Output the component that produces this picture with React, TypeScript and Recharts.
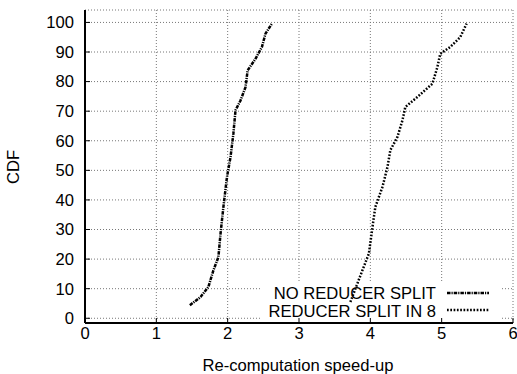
import React from 'react';
import { LineChart, Line, XAxis, YAxis, CartesianGrid } from 'recharts';

const FONT = '"Liberation Sans", Arial, Helvetica, sans-serif';

const xTicks = [0, 1, 2, 3, 4, 5, 6];
const yTicks = [0, 10, 20, 30, 40, 50, 60, 70, 80, 90, 100];

const seriesNames = ['NO REDUCER SPLIT', 'REDUCER SPLIT IN 8'];

const noSplitX = [1.47, 1.62, 1.73, 1.80, 1.87, 1.90, 1.94, 1.99, 2.04, 2.08, 2.11, 2.18, 2.25, 2.28, 2.39, 2.48, 2.53, 2.62];
const noSplitY = [4.4, 7.2, 10.6, 16.2, 20.7, 28.6, 37.6, 47.7, 54.5, 62.4, 70.3, 73.6, 78.1, 83.8, 87.7, 91.7, 96.2, 99.6];

const split8X = [3.72, 3.76, 3.81, 3.87, 3.98, 4.03, 4.07, 4.17, 4.24, 4.28, 4.38, 4.45, 4.49, 4.66, 4.87, 4.94, 4.98, 5.12, 5.26, 5.35];
const split8Y = [5.5, 8.0, 11.2, 15.0, 21.9, 30.8, 37.6, 44.4, 51.1, 56.8, 61.3, 66.9, 71.4, 74.8, 79.3, 84.9, 89.4, 91.7, 95.0, 99.6];

const noSplit = noSplitX.map((x, i) => ({ x, y: noSplitY[i] }));
const split8 = split8X.map((x, i) => ({ x, y: split8Y[i] }));

const DASHDOT = '3.5 1 1.2 1';
const DOTTED = '1.7 1.6';
const FS = 16.6;

const axisLine = { stroke: '#000', strokeWidth: 2 };
const tickLine = { stroke: '#000', strokeWidth: 1 };
const tickStyle = { fill: '#000', fontSize: FS, fontFamily: FONT };

function KeyBox() {
  return (
    <g>
      <rect x={262} y={281} width={238} height={40} fill="#fff" />
      <text x={436} y={298.5} textAnchor="end" fontSize={FS} fontFamily={FONT} fill="#000">{seriesNames[0]}</text>
      <text x={436} y={317} textAnchor="end" fontSize={FS} fontFamily={FONT} fill="#000">{seriesNames[1]}</text>
      <line x1={447} x2={489} y1={293} y2={293} stroke="#000" strokeWidth={2.5} strokeDasharray={DASHDOT} />
      <line x1={447} x2={489} y1={310} y2={310} stroke="#000" strokeWidth={2.5} strokeDasharray={DOTTED} />
      <text x={298} y={371} textAnchor="middle" fontSize={FS} fontFamily={FONT} fill="#000">Re-computation speed-up</text>
      <text x={19} y={167} textAnchor="middle" fontSize={FS} fontFamily={FONT} fill="#000" transform="rotate(-90, 19, 167)">CDF</text>
    </g>
  );
}

export default function App() {
  return (
    <div style={{ position: 'absolute', left: 0, top: 0 }}>
      <LineChart width={517} height={374} margin={{ top: 10, right: 4, bottom: 11, left: 25 }}>
        <CartesianGrid xAxisId="b" yAxisId="l" stroke="#777" strokeDasharray="1 2" strokeWidth={1} />
        <KeyBox />
        <XAxis xAxisId="b" type="number" dataKey="x" domain={[0, 6]} ticks={xTicks} interval={0} allowDataOverflow
          orientation="bottom" height={40} tickSize={-5} tickMargin={9}
          axisLine={axisLine} tickLine={tickLine} tick={tickStyle} />
        <XAxis xAxisId="t" type="number" dataKey="x" domain={[0, 6]} ticks={xTicks} interval={0} allowDataOverflow
          orientation="top" height={0} tickSize={-5} tickMargin={0}
          axisLine={axisLine} tickLine={tickLine} tickFormatter={() => ''} />
        <YAxis yAxisId="l" type="number" dataKey="y" domain={[-1.6, 104.2]} ticks={yTicks} interval={0} allowDataOverflow
          orientation="left" width={60} tickSize={-5} tickMargin={16}
          axisLine={axisLine} tickLine={tickLine} tick={tickStyle} />
        <YAxis yAxisId="r" type="number" dataKey="y" domain={[-1.6, 104.2]} ticks={yTicks} interval={0} allowDataOverflow
          orientation="right" width={0} tickSize={-5} tickMargin={0}
          axisLine={axisLine} tickLine={tickLine} tickFormatter={() => ''} />
        <Line xAxisId="b" yAxisId="l" data={noSplit} dataKey="y" type="linear" stroke="#000" strokeWidth={2.5}
          strokeDasharray={DASHDOT} dot={false} isAnimationActive={false} />
        <Line xAxisId="b" yAxisId="l" data={split8} dataKey="y" type="linear" stroke="#000" strokeWidth={2.5}
          strokeDasharray={DOTTED} dot={false} isAnimationActive={false} />
      </LineChart>
    </div>
  );
}
